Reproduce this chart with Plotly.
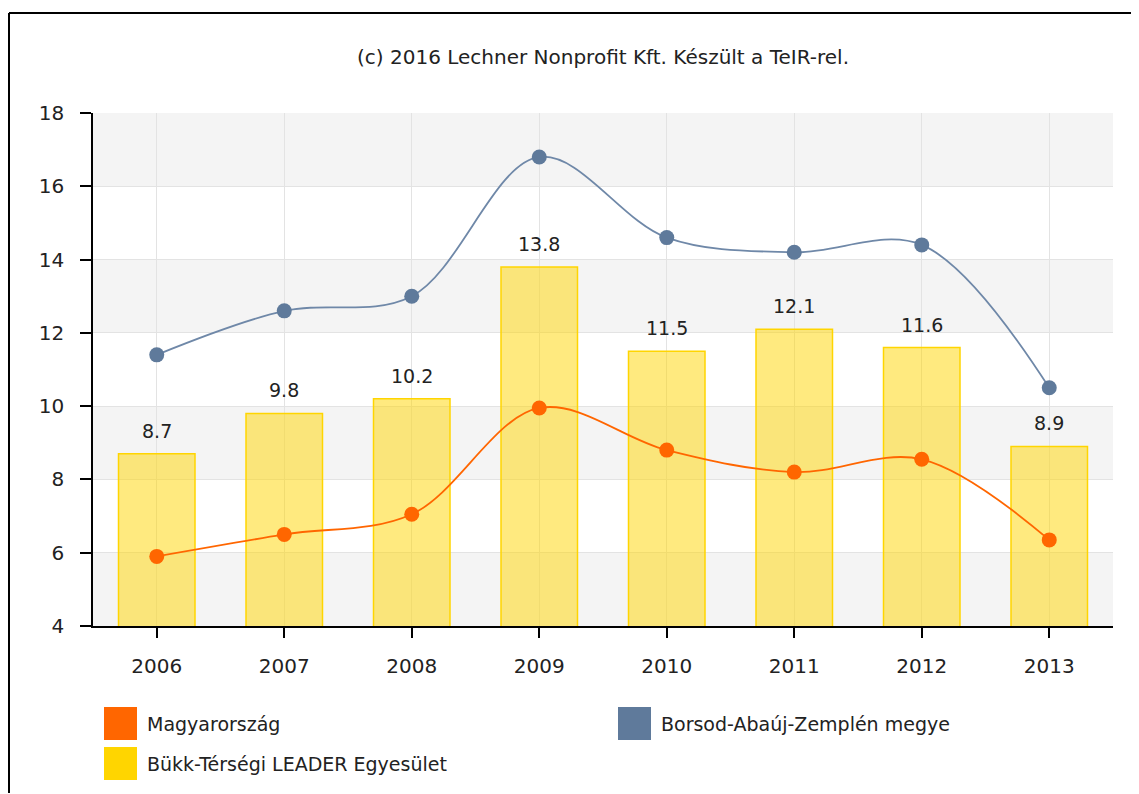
import plotly.graph_objects as go

years = ["2006", "2007", "2008", "2009", "2010", "2011", "2012", "2013"]
magyarorszag = [5.9, 6.5, 7.05, 9.95, 8.8, 8.2, 8.55, 6.35]
borsod = [11.4, 12.6, 13.0, 16.8, 14.6, 14.2, 14.4, 10.5]
bukk = [8.7, 9.8, 10.2, 13.8, 11.5, 12.1, 11.6, 8.9]
y_ticks = [4, 6, 8, 10, 12, 14, 16, 18]

title_text = "(c) 2016 Lechner Nonprofit Kft. Készült a TeIR-rel."
names = ["Magyarország", "Borsod-Abaúj-Zemplén megye", "Bükk-Térségi LEADER Egyesület"]
colors = ["#FF6600", "#5F7A9B", "#FFD500"]

# page body has an 8px margin; work in figure coordinates = screen - 8
OFF = 8
W, H = 1139 - OFF, 794 - OFF - 1
L, R, T, B = 93 - OFF, 26, 113 - OFF, 167
pw, ph = W - L - R, H - T - B


def px(x):
    return (x - OFF - L) / pw


def py(y):
    return (H - B - (y - OFF)) / ph


FONT = "DejaVu Sans"

fig = go.Figure()
fig.add_trace(go.Bar(
    x=years, y=bukk, width=0.6, name=names[2],
    marker=dict(color="rgba(255,213,0,0.5)", line=dict(color="#FFD500", width=1.5)),
    showlegend=False,
))
fig.add_trace(go.Scatter(
    x=years, y=magyarorszag, mode="lines+markers", name=names[0],
    line=dict(color=colors[0], width=1.8, shape="spline", smoothing=1.0),
    marker=dict(size=15, color=colors[0]), showlegend=False,
))
fig.add_trace(go.Scatter(
    x=years, y=borsod, mode="lines+markers", name=names[1],
    line=dict(color="#6F88A8", width=1.8, shape="spline", smoothing=1.0),
    marker=dict(size=15, color=colors[1]), showlegend=False,
))

shapes = []
for i, lo in enumerate(y_ticks[:-1]):
    if i % 2 == 0:
        shapes.append(dict(type="rect", xref="paper", yref="y", x0=0, x1=1, y0=lo, y1=lo + 2,
                           fillcolor="#F4F4F4", line=dict(width=0), layer="below"))
# outer frame
shapes.append(dict(type="line", xref="paper", yref="paper", x0=px(9), x1=px(1145), y0=py(13), y1=py(13),
                   line=dict(color="black", width=2)))
shapes.append(dict(type="line", xref="paper", yref="paper", x0=px(9), x1=px(9), y0=py(13), y1=py(800),
                   line=dict(color="black", width=2)))

annotations = []
for i, v in enumerate(bukk):
    annotations.append(dict(x=i, y=v, xref="x", yref="y", text=f"{v:.1f}", showarrow=False,
                            yshift=23, yanchor="middle",
                            font=dict(family=FONT, size=19, color="#222")))

annotations.append(dict(x=0.5, y=py(57), xref="paper", yref="paper", text=title_text, showarrow=False,
                        yanchor="middle", font=dict(family=FONT, size=20, color="#222")))

leg = [(names[0], colors[0], 104, 707), (names[1], colors[1], 618, 707), (names[2], colors[2], 104, 747)]
for name, c, x0, y0 in leg:
    shapes.append(dict(type="rect", xref="paper", yref="paper", x0=px(x0), x1=px(x0 + 33),
                       y0=py(y0), y1=py(y0 + 33), fillcolor=c, line=dict(width=0)))
    annotations.append(dict(x=px(x0 + 41), y=py(y0 + 17), xref="paper", yref="paper", text=name,
                            showarrow=False, xanchor="left", yanchor="middle",
                            font=dict(family=FONT, size=19, color="#222")))

fig.update_layout(
    width=W, height=H,
    margin=dict(l=L, r=R, t=T, b=B, pad=0),
    paper_bgcolor="white", plot_bgcolor="white",
    font=dict(family=FONT, size=20, color="#222"),
    shapes=shapes, annotations=annotations,
    showlegend=False,
)
fig.update_xaxes(
    type="category", range=[-0.5, 7.5],
    showline=True, linecolor="black", linewidth=1.5,
    ticks="outside", ticklen=10, tickcolor="black", tickwidth=1.5,
    showgrid=True, gridcolor="#E3E3E3", gridwidth=1,
    tickfont=dict(family=FONT, size=20, color="#222"),
    ticklabelstandoff=11,
)
fig.update_yaxes(
    range=[4, 18], tickvals=y_ticks,
    showline=True, linecolor="black", linewidth=1.5,
    ticks="outside", ticklen=11, tickcolor="black", tickwidth=1.5,
    showgrid=True, gridcolor="#E3E3E3", gridwidth=1,
    zeroline=False,
    tickfont=dict(family=FONT, size=20, color="#222"),
    ticklabelstandoff=12,
)

fig.write_html("out.html")
